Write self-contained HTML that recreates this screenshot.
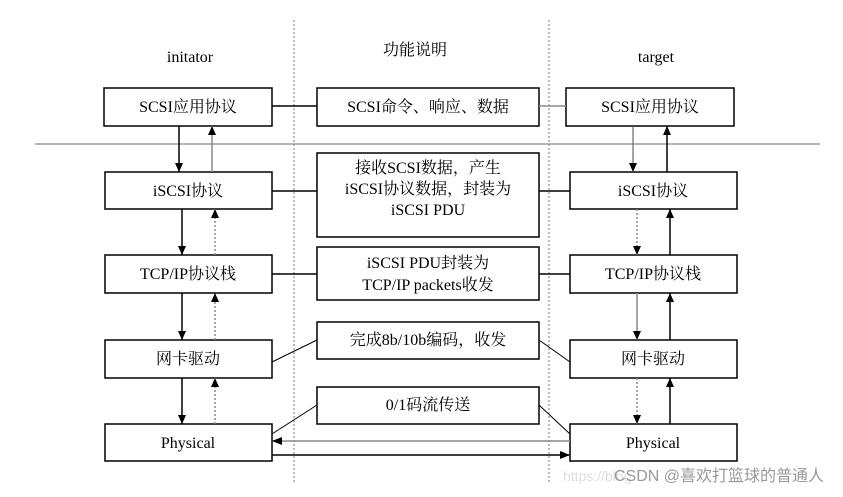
<!DOCTYPE html>
<html><head><meta charset="utf-8"><style>
html,body{margin:0;padding:0;background:#fff;}
svg text{font-family:"Liberation Serif","Noto Serif CJK SC",serif;font-size:16px;fill:#000;}
</style></head><body>
<svg width="843" height="492" viewBox="0 0 843 492" xmlns="http://www.w3.org/2000/svg">
<defs>
<marker id="a" markerWidth="9" markerHeight="8" refX="9" refY="4" orient="auto" markerUnits="userSpaceOnUse"><path d="M0,0 L9,4 L0,8 z" fill="#000"/></marker>
<marker id="h" markerWidth="10" markerHeight="8" refX="9" refY="4" orient="auto" markerUnits="userSpaceOnUse"><path d="M0,0 L10,4 L0,8 z" fill="#000"/></marker>
</defs>
<line x1="294" y1="20" x2="294" y2="482" stroke="#777" stroke-dasharray="2,2"/>
<line x1="549" y1="20" x2="549" y2="482" stroke="#777" stroke-dasharray="2,2"/>
<line x1="35" y1="144" x2="820" y2="144" stroke="#888" stroke-width="1.2"/>
<text x="190" y="62" text-anchor="middle">initator</text>
<text x="415" y="55" text-anchor="middle">功能说明</text>
<text x="656" y="62" text-anchor="middle">target</text>
<g fill="#fff" stroke="#000" stroke-width="1.5">
<rect x="104" y="88" width="168" height="38"/>
<rect x="105" y="172" width="167" height="37"/>
<rect x="105" y="255" width="167" height="38"/>
<rect x="105" y="340" width="167" height="38"/>
<rect x="105" y="424" width="167" height="37"/>
<rect x="317" y="88" width="222" height="38"/>
<rect x="317" y="153" width="222" height="84"/>
<rect x="317" y="247" width="222" height="53"/>
<rect x="317" y="322" width="222" height="37"/>
<rect x="317" y="387" width="222" height="37"/>
<rect x="566" y="88" width="168" height="38"/>
<rect x="570" y="172" width="167" height="37"/>
<rect x="570" y="255" width="167" height="38"/>
<rect x="570" y="340" width="167" height="38"/>
<rect x="570" y="424" width="167" height="37"/>
</g>
<g text-anchor="middle">
<text x="188" y="112">SCSI应用协议</text>
<text x="188" y="196">iSCSI协议</text>
<text x="188" y="279">TCP/IP协议栈</text>
<text x="188" y="364">网卡驱动</text>
<text x="188" y="448">Physical</text>
<text x="428" y="112">SCSI命令、响应、数据</text>
<text x="428" y="173">接收SCSI数据，产生</text>
<text x="428" y="194">iSCSI协议数据，封装为</text>
<text x="428" y="215">iSCSI PDU</text>
<text x="428" y="268">iSCSI PDU封装为</text>
<text x="428" y="290">TCP/IP packets收发</text>
<text x="428" y="345">完成8b/10b编码，收发</text>
<text x="428" y="410">0/1码流传送</text>
<text x="650" y="112">SCSI应用协议</text>
<text x="653" y="196">iSCSI协议</text>
<text x="653" y="279">TCP/IP协议栈</text>
<text x="653" y="364">网卡驱动</text>
<text x="653" y="448">Physical</text>
</g>
<g stroke="#000" stroke-width="1.5">
<line x1="272" y1="106" x2="317" y2="106"/>
<line x1="539" y1="106" x2="566" y2="106" stroke="#888"/>
<line x1="272" y1="191" x2="317" y2="191"/>
<line x1="539" y1="191" x2="570" y2="191"/>
<line x1="272" y1="274" x2="317" y2="274"/>
<line x1="539" y1="274" x2="570" y2="274"/>
<line x1="272" y1="362" x2="317" y2="340" stroke-width="1"/>
<line x1="539" y1="340" x2="570" y2="362" stroke-width="1"/>
<line x1="272" y1="434" x2="317" y2="405" stroke-width="1"/>
<line x1="539" y1="405" x2="570" y2="434" stroke-width="1"/>
<line x1="179" y1="126" x2="179" y2="172" marker-end="url(#a)"/>
<line x1="212" y1="172" x2="212" y2="126" marker-end="url(#a)" stroke="#888"/>
<line x1="182" y1="209" x2="182" y2="255" marker-end="url(#a)"/>
<line x1="215" y1="255" x2="215" y2="209" marker-end="url(#a)" stroke="#888" stroke-dasharray="2,2"/>
<line x1="182" y1="293" x2="182" y2="340" marker-end="url(#a)"/>
<line x1="215" y1="340" x2="215" y2="293" marker-end="url(#a)" stroke="#888" stroke-dasharray="2,2"/>
<line x1="182" y1="378" x2="182" y2="424" marker-end="url(#a)"/>
<line x1="215" y1="424" x2="215" y2="378" marker-end="url(#a)" stroke="#888" stroke-dasharray="2,2"/>
<line x1="633" y1="126" x2="633" y2="172" marker-end="url(#a)" stroke="#666" stroke-width="1.2"/>
<line x1="667" y1="172" x2="667" y2="126" marker-end="url(#a)"/>
<line x1="637" y1="209" x2="637" y2="255" marker-end="url(#a)" stroke="#888" stroke-dasharray="2,2"/>
<line x1="670" y1="255" x2="670" y2="209" marker-end="url(#a)"/>
<line x1="637" y1="293" x2="637" y2="340" marker-end="url(#a)" stroke="#888"/>
<line x1="670" y1="340" x2="670" y2="293" marker-end="url(#a)"/>
<line x1="637" y1="378" x2="637" y2="424" marker-end="url(#a)" stroke="#888" stroke-dasharray="2,2"/>
<line x1="670" y1="424" x2="670" y2="378" marker-end="url(#a)"/>
<line x1="570" y1="441" x2="273" y2="441" marker-end="url(#h)" stroke="#888"/>
<line x1="272" y1="455" x2="569" y2="455" marker-end="url(#h)"/>
</g>
<text x="563" y="481" style="font-family:'Liberation Sans',sans-serif;font-size:14px;fill:#ddd">https://blog</text>
<text x="614" y="481" style="font-family:'Liberation Sans','Noto Sans CJK SC',sans-serif;font-size:16px;fill:#999">CSDN @喜欢打篮球的普通人</text>
</svg>
</body></html>
